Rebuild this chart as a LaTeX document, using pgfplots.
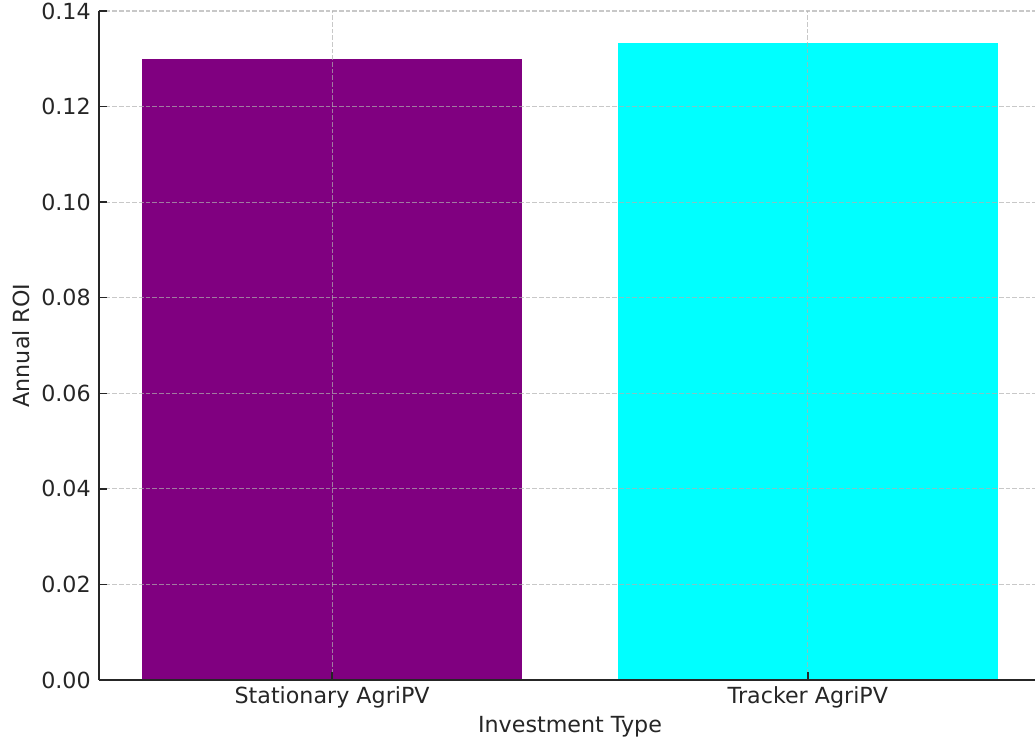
\documentclass[border=0pt]{standalone}
\usepackage{fontspec}
\setmainfont{DejaVu Sans}
\usepackage{pgfplots}
\pgfplotsset{compat=1.18}
\definecolor{barpurple}{RGB}{128,0,128}
\definecolor{barcyan}{RGB}{0,255,255}
\definecolor{gridc}{RGB}{176,176,176}
\definecolor{txt}{RGB}{38,38,38}
\definecolor{spine}{RGB}{38,38,38}
\begin{document}
\begin{tikzpicture}
\useasboundingbox (-74.25pt,-47.25pt) rectangle (702pt,510pt);
\begin{axis}[
  at={(0pt,0pt)}, anchor=south west,
  scale only axis, width=706.5pt, height=501.75pt,
  xmin=-0.49, xmax=1.49, ymin=0, ymax=0.14,
  enlargelimits=false,
  axis x line*=bottom, axis y line*=left,
  axis line style={spine, line width=1pt, -},
  axis on top,
  xtick={0,1}, xticklabels={Stationary AgriPV, Tracker AgriPV},
  ytick={0,0.02,0.04,0.06,0.08,0.10,0.12,0.14},
  scaled y ticks=false,
  minor tick num=0,
  tick align=inside, major tick length=5.8pt,
  tick style={spine, line width=1pt},
  grid=major,
  major grid style={gridc, opacity=0.7, line width=0.8pt, dash pattern=on 3.4pt off 1.6pt},
  /pgf/number format/assume math mode=true,
  yticklabel style={/pgf/number format/fixed, /pgf/number format/fixed zerofill, /pgf/number format/precision=2},
  tick label style={font=\fontsize{16.65}{20}\selectfont, text=txt},
  xticklabel style={anchor=base, inner sep=0pt, yshift=-17.25pt},
  yticklabel style={anchor=east, inner sep=0pt, xshift=-6pt},
  xlabel={Investment Type},
  xlabel style={at={(axis description cs:0.5,-0.07773)}, anchor=base, inner sep=0pt, font=\fontsize{16.65}{20}\selectfont, text=txt},
  ylabel={Annual ROI},
  ylabel style={at={(axis description cs:-0.07325,0.5)}, anchor=base, inner sep=0pt, font=\fontsize{16.65}{20}\selectfont, text=txt},
  title={Annual ROI Comparison of Stationary AgriPV and Tracker AgriPV (IRR)},
  title style={at={(axis description cs:0.5,1.01873)}, anchor=base, inner sep=0pt, font=\fontsize{20}{24}\selectfont, text=txt},
]
\addplot[ybar, bar width=0.8, bar shift=0, fill=barpurple, draw=none] coordinates {(0,0.13)};
\addplot[ybar, bar width=0.8, bar shift=0, fill=barcyan, draw=none] coordinates {(1,0.1333)};
\end{axis}
\end{tikzpicture}
\end{document}
